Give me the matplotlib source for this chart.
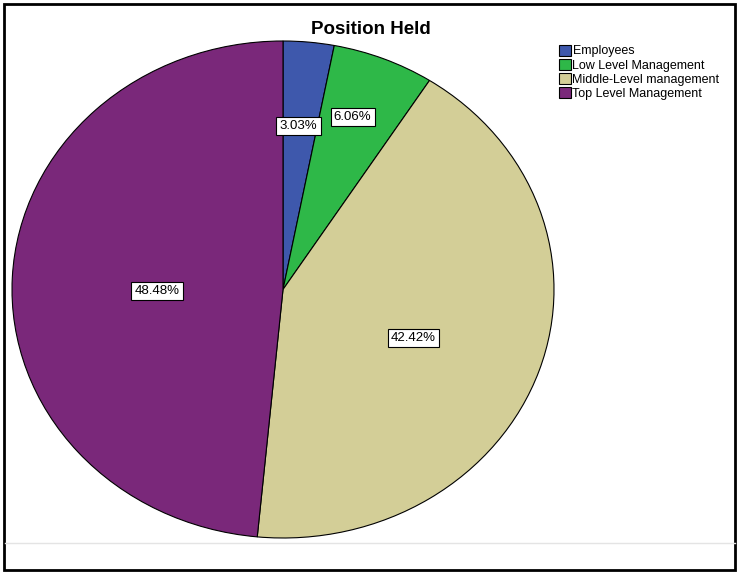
"""Position Held pie chart (SPSS style)."""
import numpy as np
import matplotlib.pyplot as plt
from matplotlib.patches import Rectangle
from matplotlib.lines import Line2D

categories = ["Employees", "Low Level Management",
              "Middle-Level management", "Top Level Management"]
percents = [3.03, 6.06, 42.42, 48.48]
# label placement: radial distance and small angular nudge (deg)
label_dist = [0.66, 0.74, 0.52, 0.465]
label_nudge = [-0.5, -1.5, 3.0, -3.5]

COLOURS = ["#3E58AC", "#2EB848", "#D3CE97", "#7A287A"]

W, H = 738, 574
fig = plt.figure(figsize=(W / 100, H / 100), dpi=100)
plt.rcParams["font.family"] = ["Liberation Sans", "DejaVu Sans"]

# outer frame and faint separator
fig.add_artist(Rectangle((4 / W, 4 / H), 731 / W, 566 / H, transform=fig.transFigure,
                         fill=False, ec="black", lw=2))
fig.add_artist(Line2D([5 / W, 735 / W], [1 - 543 / H, 1 - 543 / H],
                      transform=fig.transFigure, color="#e4e4e4", lw=1))

# elliptical pie: axes box sized to the ellipse
ax = fig.add_axes([12 / W, 1 - 538 / H, 542 / W, 497 / H])
wedges, _ = ax.pie(percents, colors=COLOURS, startangle=90, counterclock=False,
                   radius=1, wedgeprops=dict(edgecolor="black", linewidth=0.8))
ax.set_aspect("auto")
ax.set_xlim(-1, 1)
ax.set_ylim(-1, 1)
ax.axis("off")

cum = np.cumsum([0] + percents[:-1])
for p, c, d, n in zip(percents, cum, label_dist, label_nudge):
    ang = np.deg2rad((c + p / 2) / 100 * 360 + n)
    ax.text(d * np.sin(ang), d * np.cos(ang), f"{p:.2f}%", ha="center", va="center",
            fontsize=9.5, bbox=dict(boxstyle="square,pad=0.25", fc="white", ec="black", lw=0.8))

fig.text(371 / W, 1 - 29 / H, "Position Held", ha="center", va="center",
         fontsize=13.5, fontweight="bold")

fig.legend(wedges, categories, loc="upper left", bbox_to_anchor=(550 / W, 1 - 36 / H),
           frameon=False, fontsize=9, handlelength=0.95, handleheight=0.95,
           handletextpad=0.15, labelspacing=0.12, borderpad=0.2)

fig.savefig("out.png", dpi=100)
